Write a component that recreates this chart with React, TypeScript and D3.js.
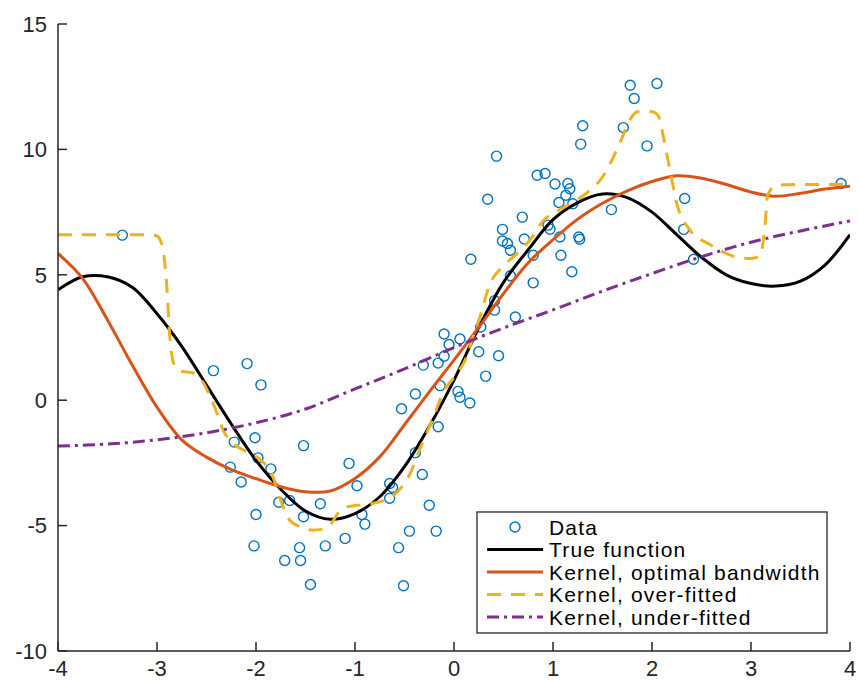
import React from "react";
import * as d3 from "d3";

// ---- Data ----
const dataX = [-3.35,-2.43,-2.09,-1.95,-2.22,-2.01,-1.98,-2.26,-2.15,-1.85,-2.0,-2.02,-1.77,-1.66,-1.71,-1.55,-1.56,-1.52,-1.35,-1.52,-1.3,-1.45,-1.06,-0.98,-0.93,-0.9,-1.1,-0.65,-0.62,-0.65,-0.56,-0.51,-0.45,-0.39,-0.32,-0.25,-0.18,-0.16,-0.53,-0.39,-0.14,0.04,0.06,0.16,-0.31,-0.16,-0.1,-0.1,0.06,-0.05,0.25,0.45,0.32,0.27,0.62,0.41,0.41,0.17,0.57,0.8,0.57,0.54,0.49,0.49,0.71,0.69,0.8,0.34,0.43,0.84,0.92,1.02,1.15,1.17,1.13,1.06,1.2,0.95,0.97,1.07,1.26,1.27,1.08,1.19,1.59,1.3,1.28,1.71,1.95,1.78,1.82,2.05,2.33,2.32,2.42,3.91];
const dataY = [6.58,1.18,1.46,0.61,-1.67,-1.5,-2.3,-2.67,-3.26,-2.74,-4.56,-5.81,-4.07,-4.0,-6.39,-6.39,-5.88,-1.81,-4.13,-4.65,-5.81,-7.35,-2.52,-3.41,-4.56,-4.94,-5.51,-3.32,-3.48,-3.91,-5.88,-7.4,-5.22,-2.09,-2.96,-4.19,-5.22,-1.06,-0.34,0.25,0.58,0.35,0.12,-0.11,1.4,1.48,1.75,2.64,2.44,2.22,1.93,1.77,0.96,2.92,3.32,3.97,3.59,5.62,4.96,4.68,5.98,6.25,6.35,6.81,6.43,7.3,5.78,8.01,9.73,8.97,9.04,8.62,8.64,8.43,8.17,7.88,7.83,6.98,6.82,6.51,6.51,6.42,5.78,5.12,7.6,10.94,10.21,10.87,10.14,12.56,12.03,12.63,8.04,6.81,5.62,8.64];

const gridX = [-4,-3.75,-3.5,-3.25,-3,-2.75,-2.5,-2.25,-2,-1.75,-1.5,-1.25,-1,-0.75,-0.5,-0.25,0,0.25,0.5,0.75,1,1.25,1.5,1.75,2,2.25,2.5,2.75,3,3.25,3.5,3.75,4];
const trueY = [4.4,4.92,4.92,4.5,3.45,2.15,0.6,-0.95,-2.4,-3.55,-4.42,-4.75,-4.52,-3.85,-2.65,-1.05,0.8,2.9,4.7,6.0,7.2,7.88,8.22,8.08,7.5,6.6,5.7,5.0,4.65,4.55,4.75,5.4,6.6];
const optimalY = [5.85,4.85,3.2,1.4,-0.28,-1.58,-2.27,-2.77,-3.13,-3.45,-3.65,-3.62,-3.12,-2.26,-0.98,0.33,1.6,2.9,4.25,5.48,6.4,7.22,7.85,8.35,8.72,8.95,8.85,8.6,8.3,8.13,8.25,8.42,8.53];

const underX = [-4,-3.5,-3,-2.5,-2,-1.5,-1,-0.5,0,0.5,1,1.5,2,2.5,3,3.5,4];
const underY = [-1.83,-1.75,-1.58,-1.3,-0.9,-0.35,0.45,1.25,2.1,2.88,3.6,4.35,5.05,5.72,6.3,6.75,7.15];

const overX = [-4,-3.5,-3.1,-3.0,-2.95,-2.9,-2.87,-2.82,-2.75,-2.65,-2.55,-2.42,-2.33,-2.23,-2.12,-2.02,-1.92,-1.84,-1.75,-1.66,-1.55,-1.42,-1.29,-1.12,-1.0,-0.88,-0.75,-0.61,-0.5,-0.44,-0.34,-0.21,-0.11,0.03,0.13,0.19,0.26,0.36,0.5,0.65,0.77,0.9,1.07,1.2,1.37,1.5,1.58,1.68,1.78,1.85,2.0,2.07,2.11,2.18,2.25,2.38,2.59,2.75,2.86,3.0,3.09,3.14,3.17,3.26,3.5,4];
const overY = [6.6,6.6,6.6,6.55,6.2,4.5,2.5,1.35,1.15,1.1,0.8,-0.25,-1.2,-1.73,-2.0,-2.2,-2.5,-2.95,-4.0,-4.78,-5.05,-5.18,-5.1,-4.3,-4.2,-4.15,-4.05,-3.8,-3.3,-2.9,-1.9,-0.7,0.3,1.06,1.75,2.5,3.3,4.6,5.35,5.9,6.4,7.15,7.6,7.9,8.35,8.9,9.45,10.3,11.2,11.5,11.5,11.3,10.6,9.2,7.85,6.8,6.2,5.85,5.7,5.65,5.75,6.9,8.2,8.57,8.6,8.6];

const xTicks = [-4,-3,-2,-1,0,1,2,3,4];
const yTicks = [-10,-5,0,5,10,15];
const legendLabels = ["Data","True function","Kernel, optimal bandwidth","Kernel, over-fitted","Kernel, under-fitted"];

const W = 859, H = 681;
const FONT = "'Liberation Sans', Arial, Helvetica, sans-serif";
const AX = "#262626";
const C_BLUE = "#0072BD", C_ORANGE = "#D95319", C_YELLOW = "#EDB120", C_PURPLE = "#7E2F8E";

export default function App() {
  const x = d3.scaleLinear().domain([-4, 4]).range([58, 850]);
  const y = d3.scaleLinear().domain([-10, 15]).range([651, 24]);
  const smooth = (xs: number[], ys: number[]) =>
    d3.line<number>().x((_, i) => x(xs[i])).y((_, i) => y(ys[i])).curve(d3.curveCatmullRom.alpha(0.5))(ys) || "";
  const mono = (xs: number[], ys: number[]) =>
    d3.line<number>().x((_, i) => x(xs[i])).y((_, i) => y(ys[i])).curve(d3.curveMonotoneX)(ys) || "";

  const legend = { x0: 477, y0: 512, w: 350, h: 121, row0: 527, dy: 22.5, lx0: 487, lx1: 543, tx: 549 };
  const legendStyles = [
    null,
    { stroke: "#000", dash: undefined },
    { stroke: C_ORANGE, dash: undefined },
    { stroke: C_YELLOW, dash: "14 10" },
    { stroke: C_PURPLE, dash: "12 5 3 5" },
  ];

  return (
    <svg width={W} height={H} style={{ position: "absolute", left: 0, top: 0, background: "#fff" }} fontFamily={FONT}>
      <rect x={0} y={0} width={W} height={H} fill="#fff" />
      <defs>
        <clipPath id="plotclip">
          <rect x={58} y={24} width={792} height={627} />
        </clipPath>
      </defs>
      <g clipPath="url(#plotclip)">
        {dataX.map((dx, i) => (
          <circle key={i} cx={x(dx)} cy={y(dataY[i])} r={5} fill="none" stroke={C_BLUE} strokeWidth={1.4} />
        ))}
        <path d={smooth(gridX, trueY)} fill="none" stroke="#000" strokeWidth={3} />
        <path d={smooth(gridX, optimalY)} fill="none" stroke={C_ORANGE} strokeWidth={3} />
        <path d={mono(overX, overY)} fill="none" stroke={C_YELLOW} strokeWidth={3} strokeDasharray="14 10" />
        <path d={smooth(underX, underY)} fill="none" stroke={C_PURPLE} strokeWidth={3} strokeDasharray="12 5 3 5" />
      </g>
      {/* axes */}
      <line x1={58} x2={58} y1={24} y2={651} stroke={AX} strokeWidth={1.5} />
      <line x1={58} x2={850} y1={651} y2={651} stroke={AX} strokeWidth={1.5} />
      {yTicks.map((t) => (
        <g key={"y" + t}>
          <line x1={58} x2={67} y1={y(t)} y2={y(t)} stroke={AX} strokeWidth={1.5} />
          <text x={47} y={y(t) + 7.8} textAnchor="end" fontSize={22} fill={AX}>{t}</text>
        </g>
      ))}
      {xTicks.map((t) => (
        <g key={"x" + t}>
          <line x1={x(t)} x2={x(t)} y1={651} y2={642} stroke={AX} strokeWidth={1.5} />
          <text x={x(t)} y={676} textAnchor="middle" fontSize={22} fill={AX}>{t}</text>
        </g>
      ))}
      {/* legend */}
      <rect x={legend.x0} y={legend.y0} width={legend.w} height={legend.h} fill="#fff" stroke={AX} strokeWidth={1.3} />
      {legendLabels.map((lab, i) => {
        const cy = legend.row0 + i * legend.dy;
        const st = legendStyles[i];
        return (
          <g key={lab}>
            {i === 0 ? (
              <circle cx={(legend.lx0 + legend.lx1) / 2} cy={cy} r={5} fill="none" stroke={C_BLUE} strokeWidth={1.4} />
            ) : (
              <line x1={legend.lx0} x2={legend.lx1} y1={cy} y2={cy} stroke={st!.stroke} strokeWidth={3} strokeDasharray={st!.dash} />
            )}
            <text x={legend.tx} y={cy + 7.5} fontSize={21} letterSpacing={1.2} fill="#000">{lab}</text>
          </g>
        );
      })}
    </svg>
  );
}
